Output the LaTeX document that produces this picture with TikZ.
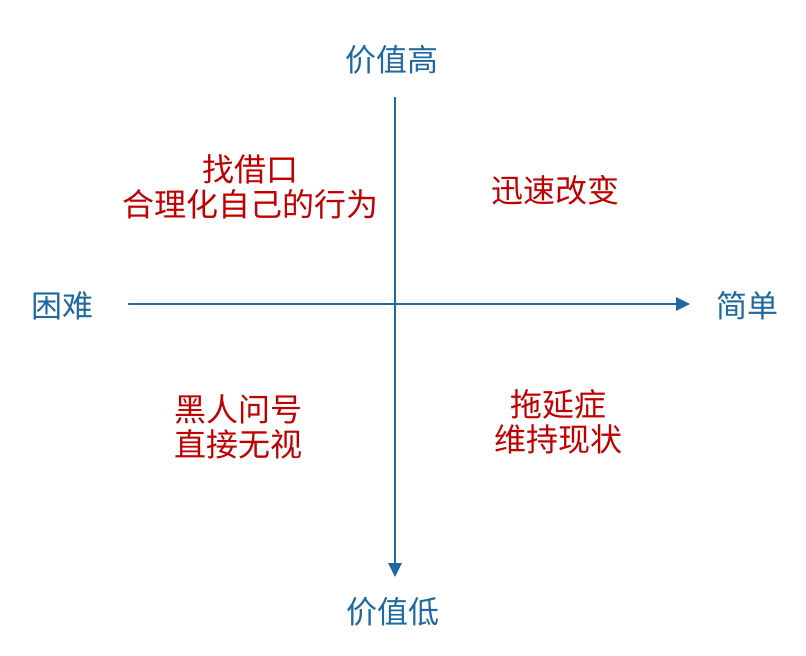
\documentclass[tikz,border=0pt]{standalone}
\usepackage{fontspec}
\setmainfont{Noto Sans CJK SC}
\usetikzlibrary{arrows.meta}
\definecolor{axisblue}{RGB}{31,105,160}
\definecolor{textred}{RGB}{192,0,0}
\begin{document}
\begin{tikzpicture}[x=1pt,y=-1pt,
  axislabel/.style={text=axisblue,font=\fontsize{31}{36}\selectfont,inner sep=0pt},
  quadtext/.style={text=textred,font=\fontsize{32}{35}\selectfont,align=center,inner sep=0pt},
  axisline/.style={draw=axisblue,line width=2.8pt}]
\useasboundingbox (0,0) rectangle (806,656);
\coordinate (top) at (395,97);
\coordinate (bottom) at (395,577);
\coordinate (left) at (128,304);
\coordinate (right) at (690,304);
\draw[axisline,-{Triangle[length=14pt,width=13pt]}] (top) -- (bottom);
\draw[axisline,-{Triangle[length=14pt,width=13pt]}] (left) -- (right);
\node[axislabel] (hi) at (392,60) {价值高};
\node[axislabel] (lo) at (393,612) {价值低};
\node[axislabel] (hard) at (62,306) {困难};
\node[axislabel] (easy) at (747,306) {简单};
\node[quadtext] (q2) at (250,187) {找借口\\合理化自己的行为};
\node[quadtext] (q1) at (555,190) {迅速改变};
\node[quadtext] (q3) at (238,427) {黑人问号\\直接无视};
\node[quadtext] (q4) at (558,422) {拖延症\\维持现状};
\end{tikzpicture}
\end{document}
